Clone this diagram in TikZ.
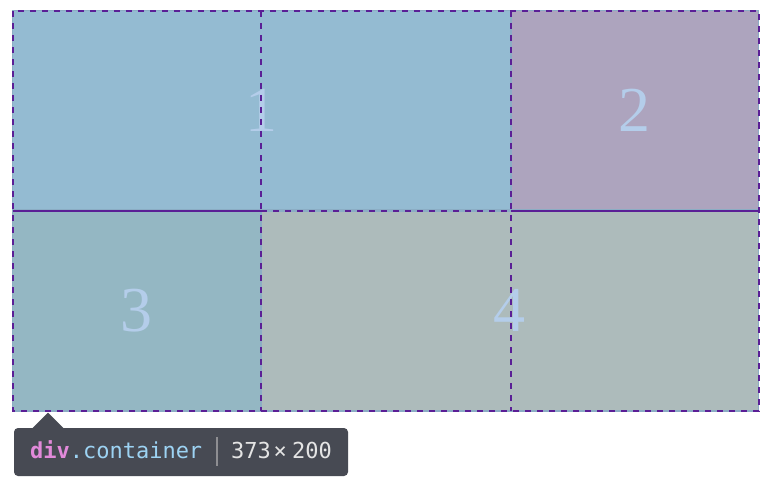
\documentclass[tikz,border=0pt]{standalone}
\usepackage{fontspec}
\newfontfamily\digitfont{Liberation Serif}
\newfontfamily\monofont{DejaVu Sans Mono}
\definecolor{cone}{HTML}{94BBD2}
\definecolor{ctwo}{HTML}{ADA4BE}
\definecolor{cthree}{HTML}{94B7C3}
\definecolor{cfour}{HTML}{ADBBBB}
\definecolor{cedge}{HTML}{8BADC4}
\definecolor{cline}{HTML}{5A1F96}
\definecolor{cdigit}{HTML}{B4CDEA}
\definecolor{ctip}{HTML}{474A53}
\definecolor{ctag}{HTML}{E28ADA}
\definecolor{cclass}{HTML}{9DD3F3}
\definecolor{csize}{HTML}{E4E4E4}
\definecolor{csep}{HTML}{8E8E92}
\tikzset{
  gridline/.style={draw=cline, line width=2pt},
  gridbrk/.style={gridline, dash pattern=on 6pt off 6pt},
  digit/.style={text=cdigit, font=\digitfont\fontsize{64}{64}\selectfont, inner sep=0pt},
  tiptext/.style={anchor=base west, inner sep=0pt, font=\monofont\fontsize{22}{22}\selectfont},
}
\begin{document}
\begin{tikzpicture}[x=1pt,y=-1pt]
\useasboundingbox (0,0) rectangle (776,484);
\fill[white] (0,0) rectangle (776,484);
% container and items
\fill[cedge] (12,10) rectangle (759,412);
\fill[cone] (13,11) rectangle (510,209);
\fill[ctwo] (512,11) rectangle (758,209);
\fill[cthree] (13,212) rectangle (260,410);
\fill[cfour] (262,212) rectangle (758,410);
% digits
\node[digit] (n1) at (261.5,110.5) {1};
\node[digit] (n2) at (634,110.5) {2};
\node[digit] (n3) at (136,310.5) {3};
\node[digit] (n4) at (509,310.5) {4};
% grid lines
\coordinate (tl) at (13,11);
\coordinate (br) at (758.5,411);
\draw[gridbrk] (tl) rectangle (br);
\draw[gridbrk] (261,11) -- (261,411);
\draw[gridbrk] (511,11) -- (511,411);
\draw[gridline] (13,211) -- (261,211);
\draw[gridline] (511,211) -- (758.5,211);
\draw[gridbrk] (261,211) -- (511,211);
% tooltip
\fill[ctip, rounded corners=4pt] (14,428) rectangle (348,476);
\fill[ctip] (32,428.5) -- (48,412.5) -- (64,428.5) -- cycle;
\node[tiptext, text=ctag, font=\monofont\bfseries\fontsize{22}{22}\selectfont] (tag) at (30,458) {div};
\node[tiptext, text=cclass] (cls) at (69.6,458) {.container};
\draw[csep, line width=1.5pt] (217,437) -- (217,466);
\node[tiptext, text=csize] (sz1) at (231,458) {373};
\node[tiptext, text=csize] (szx) at (273.5,458) {\char"00D7};
\node[tiptext, text=csize] (sz2) at (292,458) {200};
\end{tikzpicture}
\end{document}
